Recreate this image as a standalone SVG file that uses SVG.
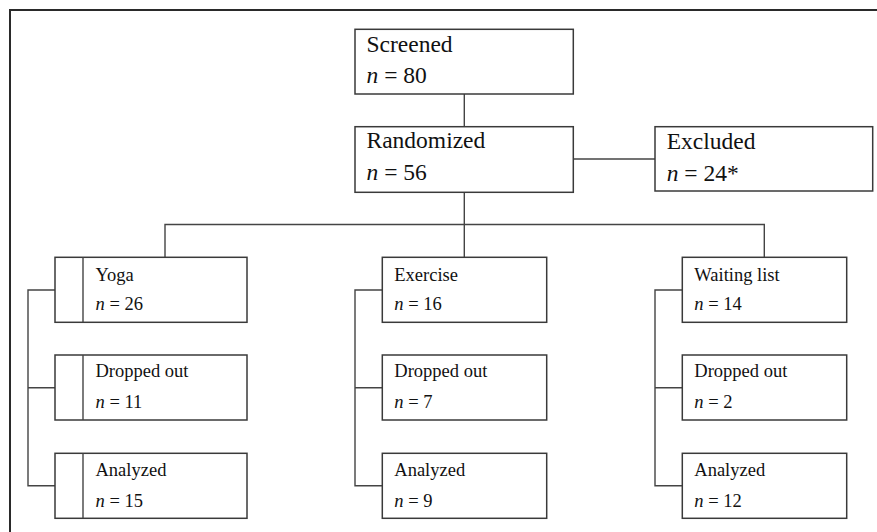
<svg xmlns="http://www.w3.org/2000/svg" width="877" height="532" viewBox="0 0 877 532">
<style>
.box{fill:#fff;stroke:#3a3a3a;stroke-width:1.5}
.ln{fill:none;stroke:#444;stroke-width:1.4}
.frame{fill:none;stroke:#2a2a2a;stroke-width:2}
.t1{font-family:"Liberation Serif","Times New Roman",serif;font-size:23.5px;fill:#111}
.t2{font-family:"Liberation Serif","Times New Roman",serif;font-size:18.5px;fill:#111}
.i{font-style:italic}
</style>
<rect width="877" height="532" fill="#fff"/>
<path class="frame" d="M10,532 V10 H877"/>
<g id="connectors">
<path class="ln" d="M464.3,94 V126.7"/>
<path class="ln" d="M573.3,159 H655"/>
<path class="ln" d="M464.3,192.3 V257.3"/>
<path class="ln" d="M165,257.3 V224.5 H764.3 V257.3"/>
<path class="ln" d="M55,290 H28 V485.7 H55 M28,387.7 H55"/>
<path class="ln" d="M382.3,290 H355 V485.7 H382.3 M355,387.7 H382.3"/>
<path class="ln" d="M682.3,290 H655 V485.7 H682.3 M655,387.7 H682.3"/>
</g>
<g id="screened">
<rect class="box" x="355" y="29.3" width="218.3" height="64.7"/>
<text class="t1" x="366.5" y="52.3">Screened</text>
<text class="t1" x="366.5" y="83.3"><tspan class="i">n</tspan> = 80</text>
</g>
<g id="randomized">
<rect class="box" x="355" y="126.7" width="218.3" height="65.6"/>
<text class="t1" x="366.5" y="148.3">Randomized</text>
<text class="t1" x="366.5" y="180"><tspan class="i">n</tspan> = 56</text>
</g>
<g id="excluded">
<rect class="box" x="655" y="126.7" width="217.7" height="64.3"/>
<text class="t1" x="666.7" y="149">Excluded</text>
<text class="t1" x="666.7" y="180.7"><tspan class="i">n</tspan> = 24*</text>
</g>
<g id="yoga">
<rect class="box" x="55" y="257.3" width="192" height="65"/>
<path class="ln" d="M83,257.3 V322.3"/>
<text class="t2" x="95.5" y="281">Yoga</text>
<text class="t2" x="95.5" y="310"><tspan class="i">n</tspan> = 26</text>
</g>
<g id="yoga-dropped">
<rect class="box" x="55" y="355" width="192" height="65"/>
<path class="ln" d="M83,355 V420"/>
<text class="t2" x="95.5" y="377.3">Dropped out</text>
<text class="t2" x="95.5" y="408.3"><tspan class="i">n</tspan> = 11</text>
</g>
<g id="yoga-analyzed">
<rect class="box" x="55" y="453.3" width="192" height="65"/>
<path class="ln" d="M83,453.3 V518.3"/>
<text class="t2" x="95.5" y="476">Analyzed</text>
<text class="t2" x="95.5" y="506.7"><tspan class="i">n</tspan> = 15</text>
</g>
<g id="exercise">
<rect class="box" x="382.3" y="257.3" width="164.4" height="65"/>
<text class="t2" x="394.3" y="281">Exercise</text>
<text class="t2" x="394.3" y="310"><tspan class="i">n</tspan> = 16</text>
</g>
<g id="exercise-dropped">
<rect class="box" x="382.3" y="355" width="164.4" height="65"/>
<text class="t2" x="394.3" y="377.3">Dropped out</text>
<text class="t2" x="394.3" y="408.3"><tspan class="i">n</tspan> = 7</text>
</g>
<g id="exercise-analyzed">
<rect class="box" x="382.3" y="453.3" width="164.4" height="65"/>
<text class="t2" x="394.3" y="476">Analyzed</text>
<text class="t2" x="394.3" y="506.7"><tspan class="i">n</tspan> = 9</text>
</g>
<g id="waiting">
<rect class="box" x="682.3" y="257.3" width="164.4" height="65"/>
<text class="t2" x="694.3" y="281">Waiting list</text>
<text class="t2" x="694.3" y="310"><tspan class="i">n</tspan> = 14</text>
</g>
<g id="waiting-dropped">
<rect class="box" x="682.3" y="355" width="164.4" height="65"/>
<text class="t2" x="694.3" y="377.3">Dropped out</text>
<text class="t2" x="694.3" y="408.3"><tspan class="i">n</tspan> = 2</text>
</g>
<g id="waiting-analyzed">
<rect class="box" x="682.3" y="453.3" width="164.4" height="65"/>
<text class="t2" x="694.3" y="476">Analyzed</text>
<text class="t2" x="694.3" y="506.7"><tspan class="i">n</tspan> = 12</text>
</g>
</svg>
